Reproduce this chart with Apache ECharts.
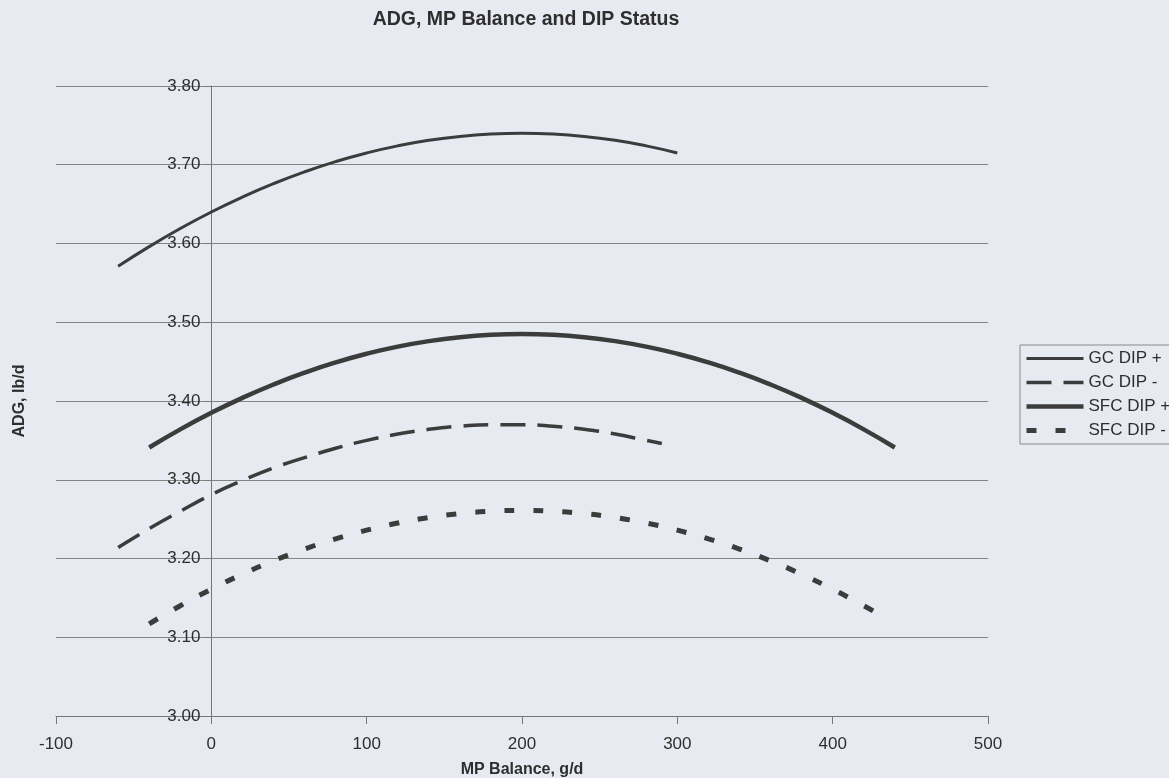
<!DOCTYPE html>
<html>
<head>
<meta charset="utf-8">
<script src="https://cdn.jsdelivr.net/npm/echarts@6/dist/echarts.min.js"></script>
<style>
html,body{margin:0;padding:0;background:#e8eaf2;}
#chart{width:1169px;height:778px;}
</style>
</head>
<body>
<div id="chart"></div>
<script>
// ---- data ----
const title = 'ADG, MP Balance and DIP Status';
const xName = 'MP Balance, g/d';
const yName = 'ADG, lb/d';
const seriesNames = ['GC DIP +', 'GC DIP -', 'SFC DIP +', 'SFC DIP -'];

const gcPlusX  = [-60,-40,-20,0,20,40,60,80,100,120,140,160,180,200,220,240,260,280,300];
const gcPlusY  = [3.571,3.596,3.619,3.640,3.659,3.676,3.691,3.704,3.715,3.724,3.731,3.736,3.739,3.740,3.739,3.736,3.731,3.724,3.715];

const gcMinusX = [-60,-40,-20,0,20,40,60,80,100,120,140,160,180,200,220,240,260,280,290];
const gcMinusY = [3.214,3.238,3.260,3.281,3.299,3.315,3.328,3.340,3.350,3.358,3.364,3.368,3.370,3.370,3.368,3.364,3.358,3.350,3.346];

const sfcPlusX = [-40,-20,0,20,40,60,80,100,120,140,160,180,200,220,240,260,280,300,320,340,360,380,400,420,440];
const sfcPlusY = [3.341,3.364,3.385,3.404,3.421,3.436,3.449,3.460,3.469,3.476,3.481,3.484,3.485,3.484,3.481,3.476,3.469,3.460,3.449,3.436,3.421,3.404,3.385,3.364,3.341];

const sfcMinusX = [-40,-20,0,20,40,60,80,100,120,140,160,180,200,220,240,260,280,300,320,340,360,380,400,420,430];
const sfcMinusY = [3.117,3.140,3.161,3.180,3.197,3.212,3.225,3.236,3.245,3.252,3.257,3.260,3.261,3.260,3.257,3.252,3.245,3.236,3.225,3.212,3.197,3.180,3.161,3.140,3.129];

const xTicks = [-100, 0, 100, 200, 300, 400, 500];
const yTicks = [3.00, 3.10, 3.20, 3.30, 3.40, 3.50, 3.60, 3.70, 3.80];

function pairs(xs, ys){ return xs.map((x,i)=>[x, ys[i]]); }

const lineColor = '#3c3c3c';
const textColor = '#2e2e2e';
const FONT = 'Arial, "Liberation Sans", sans-serif';

// plot area (px)
const gridLeft = 56, gridRight = 181, gridTop = 86, gridBottom = 62;
const plotW = 1169 - gridLeft - gridRight;
// y axis sits at x = 0 on the x scale
const yAxisOffset = -plotW * (0 - xTicks[0]) / (xTicks[xTicks.length-1] - xTicks[0]);

const widths = [3, 3.5, 4.5, 5];
const types = ['solid', [25, 12], 'solid', [10, 19]];

const chart = echarts.init(document.getElementById('chart'), null, {renderer:'canvas'});
chart.setOption({
  backgroundColor: '#e8eaf2',
  animation: false,
  title: {
    text: title,
    left: 521, textAlign: 'center', top: 5,
    textStyle: {fontFamily: FONT, fontSize: 19.5, fontWeight: 'bold', color: textColor}
  },
  legend: {
    orient: 'vertical',
    left: 1020, top: 345,
    itemWidth: 57, itemHeight: 14, itemGap: 7,
    padding: [5, 20, 5, 4],
    borderColor: '#8a8a8a', borderWidth: 1,
    itemStyle: {color: 'rgba(0,0,0,0)', borderWidth: 0, opacity: 0},
    textStyle: {fontFamily: FONT, fontSize: 17, color: textColor},
    data: seriesNames.map((n, i) => ({
      name: n,
      itemStyle: {color: 'rgba(0,0,0,0)', borderWidth: 0, opacity: 0},
      lineStyle: {color: lineColor, width: widths[i], type: types[i], opacity: 1}
    }))
  },
  grid: {left: gridLeft, right: gridRight, top: gridTop, bottom: gridBottom,
         containLabel: false, outerBoundsMode: 'none'},
  xAxis: {
    type: 'value', min: xTicks[0], max: xTicks[xTicks.length-1], interval: 100,
    name: xName, nameLocation: 'middle', nameGap: 46,
    nameTextStyle: {fontFamily: FONT, fontSize: 16, fontWeight: 'bold', color: textColor},
    axisLine: {show: true, onZero: false, lineStyle: {color: '#777777', width: 1}},
    axisTick: {show: true, length: 8, lineStyle: {color: '#777777'}},
    axisLabel: {fontFamily: FONT, fontSize: 17, color: textColor, margin: 20},
    splitLine: {show: false}
  },
  yAxis: {
    type: 'value', min: yTicks[0], max: yTicks[yTicks.length-1], interval: 0.1,
    position: 'left', offset: yAxisOffset,
    name: yName, nameLocation: 'middle', nameRotate: 90, nameGap: -yAxisOffset + 28,
    nameTextStyle: {fontFamily: FONT, fontSize: 16, fontWeight: 'bold', color: textColor},
    axisLine: {show: true, onZero: false, lineStyle: {color: '#777777', width: 1}},
    axisTick: {show: true, length: 6, lineStyle: {color: '#777777'}},
    axisLabel: {fontFamily: FONT, fontSize: 17, color: textColor, margin: 11,
      formatter: v => v.toFixed(2)},
    splitLine: {show: true, lineStyle: {color: '#858585', width: 1}}
  },
  series: seriesNames.map((n, i) => ({
    name: n, type: 'line', smooth: true, symbol: 'none',
    data: [pairs(gcPlusX, gcPlusY), pairs(gcMinusX, gcMinusY), pairs(sfcPlusX, sfcPlusY), pairs(sfcMinusX, sfcMinusY)][i],
    lineStyle: {color: lineColor, width: widths[i], type: types[i]},
    itemStyle: {color: lineColor}
  }))
});
</script>
</body>
</html>
